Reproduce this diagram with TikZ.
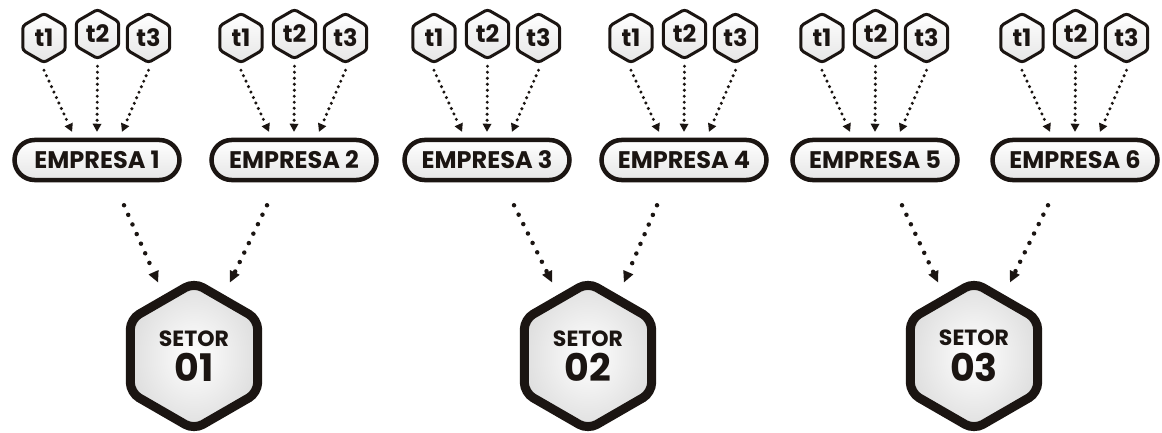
\documentclass[tikz,border=0pt]{standalone}
\usepackage{fontspec}
\setmainfont{Poppins}
\usetikzlibrary{shapes.geometric,arrows.meta,calc}
\definecolor{ink}{HTML}{1B1512}
\begin{document}
\begin{tikzpicture}[x=1pt,y=-1pt,
  tag/.style={regular polygon, regular polygon sides=6, shape border rotate=30,
    minimum size=49pt, inner sep=0pt, draw=ink, line width=3pt, rounded corners=3pt,
    top color=white, bottom color=gray!20, text=ink,
    font=\bfseries\fontsize{24}{24}\selectfont},
  empresa/.style={rectangle, rounded corners=20pt, minimum width=165pt, minimum height=40pt,
    inner sep=0pt, draw=ink, line width=4.5pt, top color=white, bottom color=gray!20,
    text=ink, font=\bfseries\fontsize{24}{24}\selectfont},
  setor/.style={regular polygon, regular polygon sides=6, shape border rotate=30,
    minimum size=147pt, inner sep=0pt, draw=ink, line width=9pt, rounded corners=10pt,
    inner color=white, outer color=gray!25, text=ink, align=center, font=\bfseries},
  tflow/.style={draw=ink, line width=3.4pt, line cap=round, dash pattern=on 0pt off 6pt,
    -{Triangle[length=8pt,width=9pt,line width=0pt]}},
  sflow/.style={draw=ink, line width=4.5pt, line cap=round, dash pattern=on 0pt off 10.5pt,
    -{Triangle[length=11pt,width=11pt,line width=0pt]}}
]
\useasboundingbox (0,0) rectangle (1162,433);
\foreach \i/\x in {1/97,2/294,3/487,4/684,5/875,6/1075}{
  \node[empresa] (e\i) at (\x,160) {EMPRESA \i};
  \node[tag] (a\i) at (\x-53,38) {t1};
  \node[tag] (b\i) at (\x+0.5,34) {t2};
  \node[tag] (c\i) at (\x+51.5,38) {t3};
  \draw[tflow] ($(a\i.south)+(0,6)$) -- ($(e\i.north)+(-25,-6)$);
  \draw[tflow] ($(b\i.south)+(0,6)$) -- ($(e\i.north)+(0,-6)$);
  \draw[tflow] ($(c\i.south)+(0,6)$) -- ($(e\i.north)+(25,-6)$);
}
\foreach \s/\x/\l/\r in {1/194/1/2,2/588/3/4,3/974/5/6}{
  \node[setor] (s\s) at (\x,356) {\fontsize{22}{22}\selectfont SETOR\\[6pt]\fontsize{38}{34}\selectfont 0\s};
  \draw[sflow] ($(e\l.south)+(27,23)$) -- ($(s\s.north)+(-36,5)$);
  \draw[sflow] ($(e\r.south)+(-27,23)$) -- ($(s\s.north)+(36,5)$);
}
\end{tikzpicture}
\end{document}
